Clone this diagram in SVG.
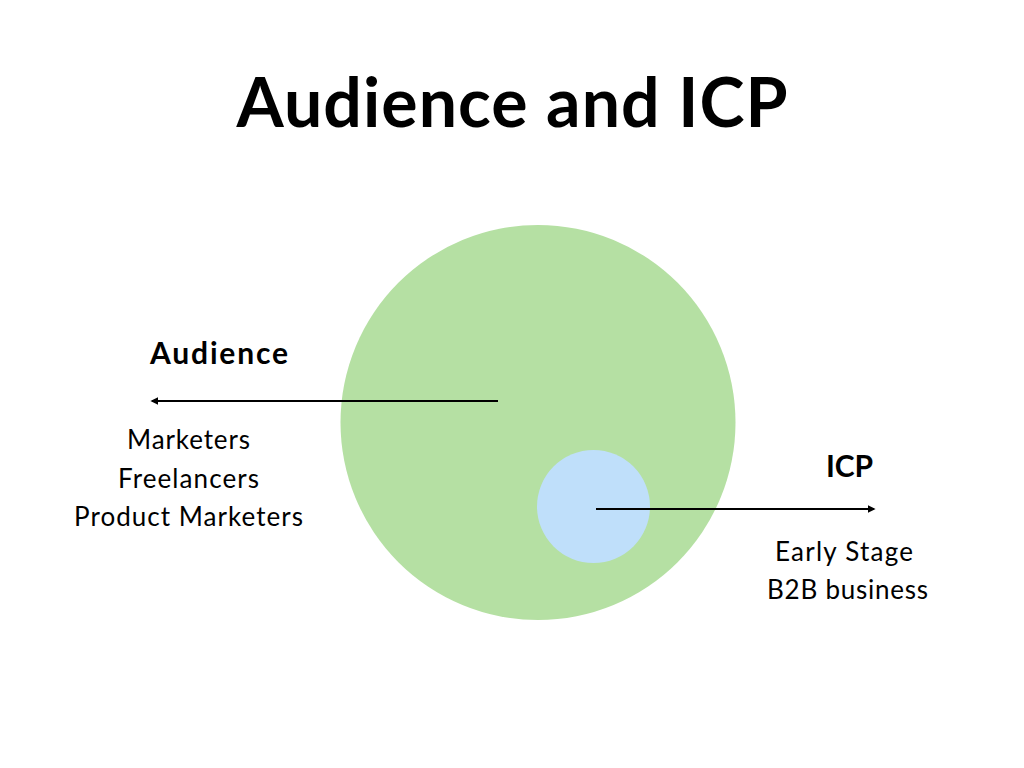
<svg xmlns="http://www.w3.org/2000/svg" width="1024" height="768" viewBox="0 0 1024 768">
<defs>
<style>
.t{font-family:Lato,"Noto Sans","Liberation Sans",sans-serif;fill:#000}
.b{font-weight:bold}
.body{font-size:26px;text-anchor:middle}
.conn{stroke:#000;stroke-width:2;fill:none}
</style>
<marker id="ah" viewBox="0 0 10 10" refX="8" refY="5" markerWidth="4" markerHeight="4" orient="auto">
<path d="M0,0 L10,5 L0,10 z" fill="#000"/>
</marker>
</defs>
<rect width="1024" height="768" fill="#fff"/>
<text id="title" class="t b" x="512" y="127" font-size="68" text-anchor="middle" textLength="551" lengthAdjust="spacing">Audience and ICP</text>
<g id="audience-circle"><circle cx="538" cy="422.5" r="197.5" fill="#b5e0a3"/></g>
<g id="icp-circle"><circle cx="593.5" cy="506.5" r="56.5" fill="#bfdffa"/></g>
<g id="connectors">
<line class="conn" x1="498" y1="401" x2="152" y2="401" marker-end="url(#ah)"/>
<line class="conn" x1="596" y1="509" x2="874" y2="509" marker-end="url(#ah)"/>
</g>
<g id="audience-label">
<text class="t b" x="150" y="364" font-size="30" textLength="138" lengthAdjust="spacing">Audience</text>
<text class="t body" x="188.5" y="449" textLength="123" lengthAdjust="spacing">Marketers</text>
<text class="t body" x="188.5" y="488" textLength="141" lengthAdjust="spacing">Freelancers</text>
<text class="t body" x="188.5" y="526" textLength="229" lengthAdjust="spacing">Product Marketers</text>
</g>
<g id="icp-label">
<text class="t b" x="849.5" y="477" font-size="30" text-anchor="middle" textLength="47" lengthAdjust="spacing">ICP</text>
<text class="t body" x="844" y="561" textLength="138" lengthAdjust="spacing">Early Stage</text>
<text class="t body" x="847.5" y="599" textLength="161" lengthAdjust="spacing">B2B business</text>
</g>
</svg>
